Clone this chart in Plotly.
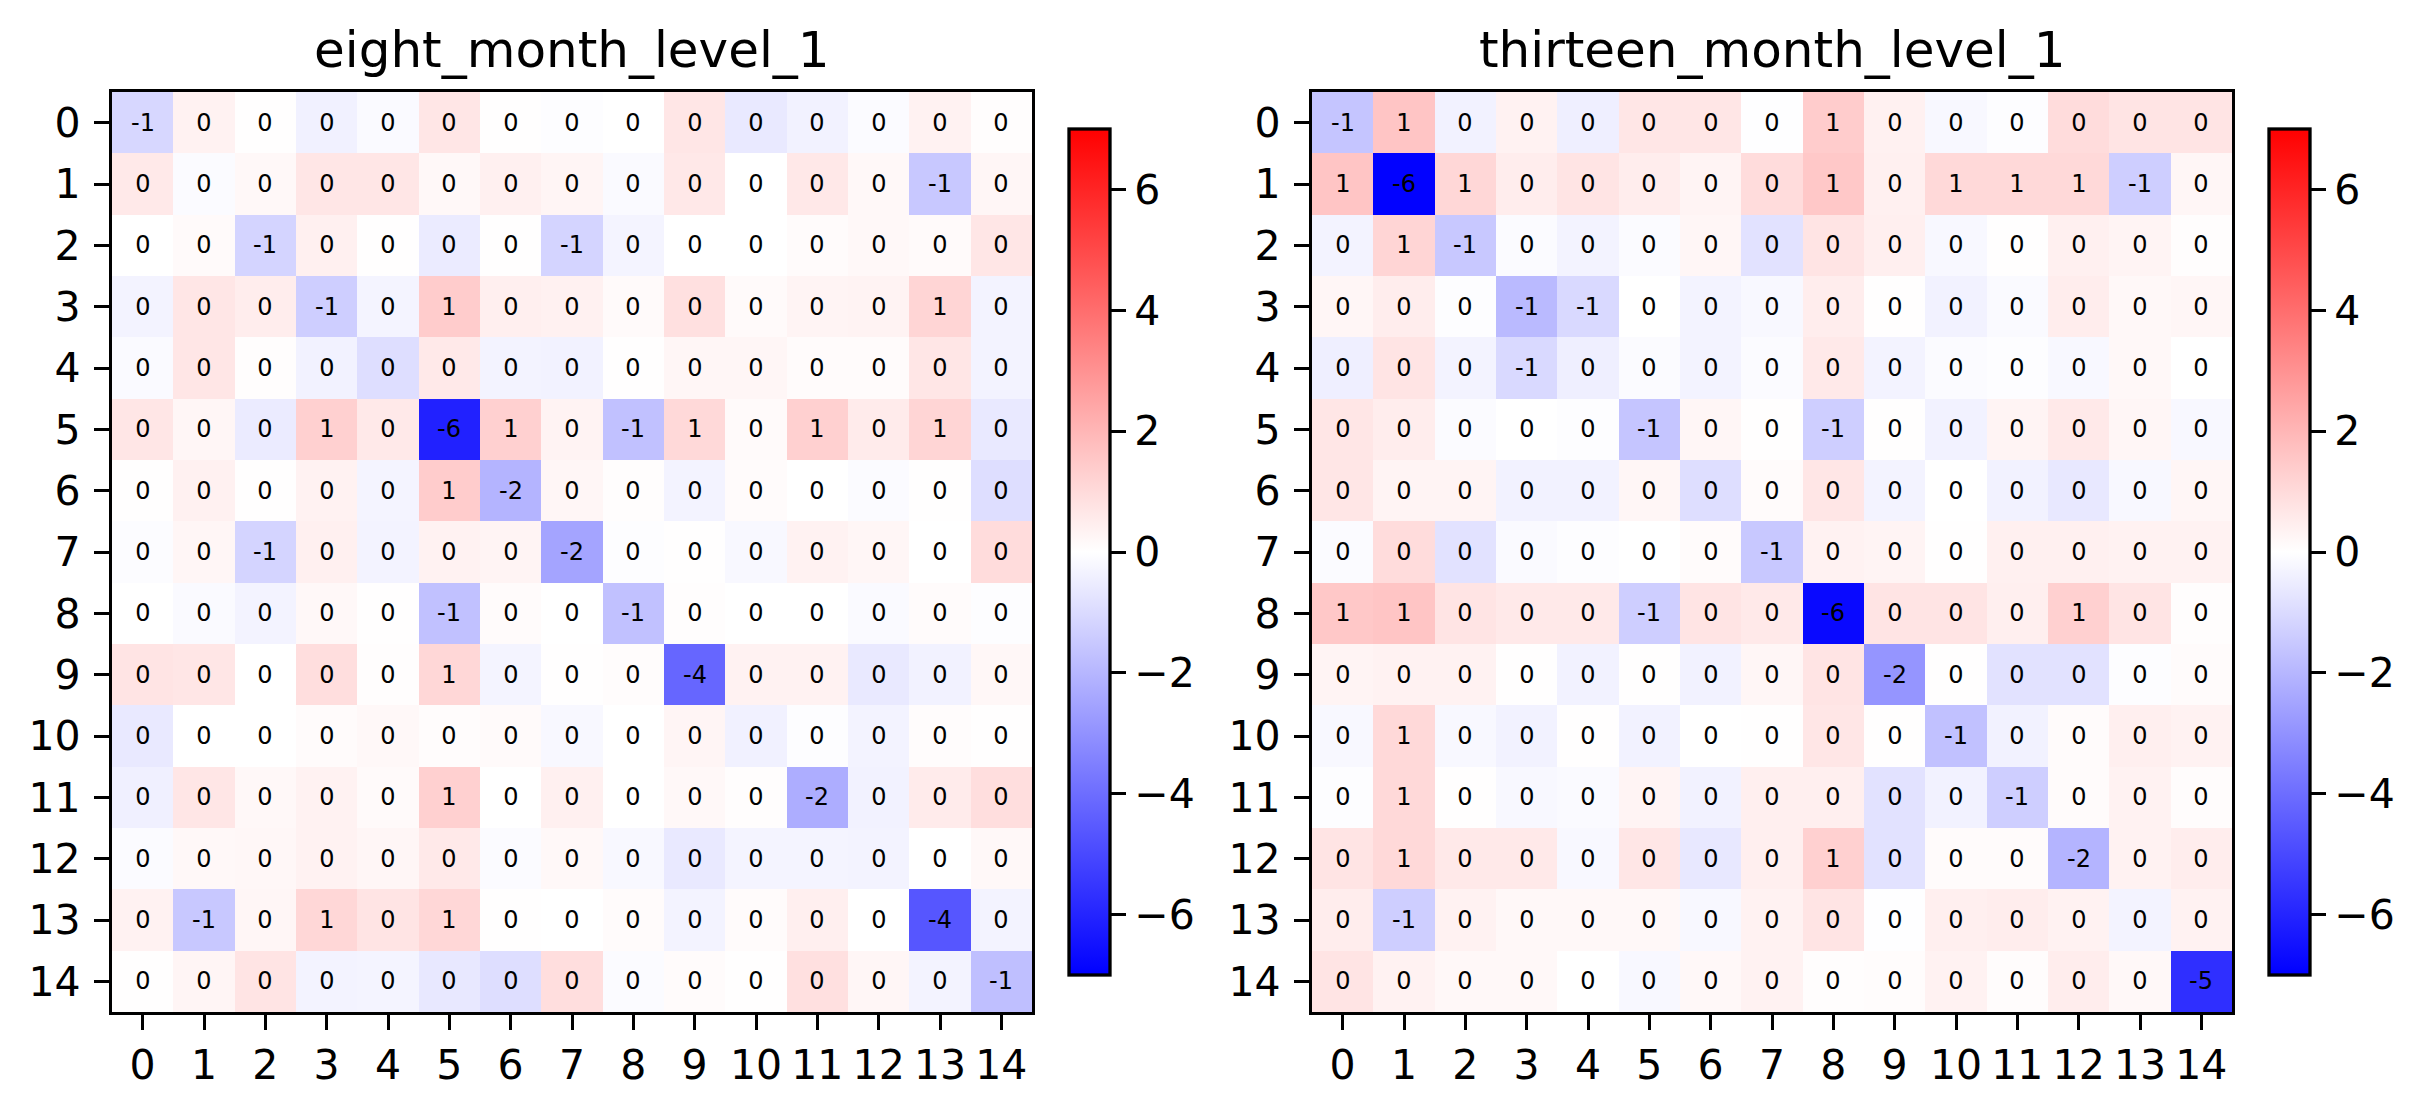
import numpy as np
import plotly.graph_objects as go

# ---------------- data ----------------
categories = list(range(15))
tick_labels = [str(c) for c in categories]
titles = ["eight_month_level_1", "thirteen_month_level_1"]

eight_month = [
    [-1.10, 0.35, 0.02, -0.38, -0.15, 0.70, 0.03, -0.05, 0.00, 0.70, -0.60, -0.35, -0.12, 0.35, 0.05],
    [0.60, -0.12, 0.18, 0.70, 0.68, 0.20, 0.40, 0.28, -0.15, 0.62, 0.01, 0.62, 0.20, -1.50, 0.25],
    [0.00, 0.15, -1.18, 0.40, 0.03, -0.55, 0.03, -1.18, -0.30, 0.00, 0.00, 0.10, 0.20, 0.15, 0.68],
    [-0.33, 0.68, 0.50, -1.35, -0.30, 1.40, 0.45, 0.38, 0.15, 0.85, 0.13, 0.30, 0.33, 1.15, -0.33],
    [-0.15, 0.68, 0.05, -0.35, -0.90, 0.60, -0.33, -0.35, 0.04, 0.25, 0.25, 0.12, 0.10, 0.68, -0.33],
    [0.68, 0.25, -0.55, 1.30, 0.60, -6.10, 1.30, 0.33, -1.70, 1.05, 0.15, 1.30, 0.55, 1.15, -0.60],
    [0.03, 0.38, 0.04, 0.35, -0.30, 1.40, -2.05, 0.25, 0.05, -0.33, 0.12, 0.00, -0.12, 0.02, -0.90],
    [-0.07, 0.25, -1.18, 0.42, -0.33, 0.35, 0.30, -2.50, -0.05, 0.03, -0.20, 0.35, 0.25, 0.00, 0.95],
    [0.00, -0.15, -0.33, 0.20, 0.03, -1.70, 0.12, 0.00, -1.70, 0.05, 0.00, 0.00, -0.13, 0.10, -0.05],
    [0.75, 0.68, 0.00, 0.90, 0.05, 1.10, -0.30, 0.03, 0.07, -4.20, 0.35, 0.35, -0.60, -0.35, 0.22],
    [-0.60, 0.00, 0.00, 0.10, 0.18, 0.08, 0.13, -0.20, 0.00, 0.28, -0.38, -0.05, -0.33, 0.07, 0.03],
    [-0.40, 0.68, 0.18, 0.35, 0.13, 1.30, 0.00, 0.40, 0.00, 0.20, 0.05, -2.25, -0.35, 0.55, 0.90],
    [-0.10, 0.20, 0.22, 0.35, 0.25, 0.60, -0.10, 0.20, -0.18, -0.60, -0.30, -0.30, -0.33, 0.00, 0.20],
    [0.35, -1.50, 0.25, 1.10, 0.75, 1.10, 0.02, 0.00, 0.10, -0.33, 0.10, 0.45, 0.00, -4.65, -0.33],
    [0.02, 0.28, 0.75, -0.33, -0.30, -0.62, -0.90, 0.90, -0.10, 0.10, 0.03, 0.85, 0.25, -0.33, -1.75],
]

thirteen_month = [
    [-1.60, 1.60, -0.35, 0.35, -0.45, 0.68, 0.68, -0.03, 1.40, 0.38, -0.18, -0.05, 0.95, 0.75, 0.75],
    [1.60, -6.95, 1.10, 0.50, 0.75, 0.50, 0.30, 0.95, 1.50, 0.42, 1.05, 1.05, 1.05, -1.35, 0.25],
    [-0.33, 1.15, -1.50, -0.10, -0.33, -0.10, 0.25, -0.80, 0.75, 0.45, -0.18, 0.02, 0.42, 0.30, 0.05],
    [0.25, 0.50, -0.05, -1.90, -1.05, 0.00, -0.33, -0.20, 0.50, 0.03, -0.35, -0.15, 0.50, 0.18, 0.25],
    [-0.45, 0.75, -0.33, -1.05, -0.45, -0.10, -0.33, -0.10, 0.60, -0.33, -0.10, -0.05, -0.20, 0.18, 0.00],
    [0.68, 0.50, -0.10, 0.00, -0.05, -1.60, 0.25, 0.02, -1.35, 0.03, -0.35, 0.30, 0.60, 0.25, -0.20],
    [0.68, 0.30, 0.30, -0.35, -0.35, 0.25, -0.90, 0.10, 0.68, -0.33, 0.00, -0.35, -0.62, -0.20, 0.25],
    [-0.10, 0.95, -0.80, -0.15, -0.05, 0.00, 0.10, -1.50, 0.35, 0.30, 0.03, 0.40, 0.40, 0.35, 0.35],
    [1.50, 1.60, 0.75, 0.60, 0.60, -1.35, 0.75, 0.60, -6.75, 0.75, 0.75, 0.45, 1.30, 0.75, 0.05],
    [0.30, 0.35, 0.35, 0.03, -0.35, 0.03, -0.35, 0.25, 0.75, -2.90, 0.03, -0.80, -0.80, -0.05, 0.10],
    [-0.20, 1.05, -0.20, -0.35, 0.02, -0.35, 0.00, 0.03, 0.68, 0.03, -1.70, -0.35, 0.10, 0.45, 0.35],
    [-0.05, 1.05, 0.02, -0.20, -0.15, 0.30, -0.35, 0.45, 0.45, -0.80, -0.35, -1.35, 0.10, 0.35, 0.08],
    [0.75, 1.05, 0.60, 0.60, -0.20, 0.68, -0.62, 0.45, 1.30, -0.80, 0.10, 0.10, -2.05, 0.35, 0.50],
    [0.50, -1.35, 0.35, 0.20, 0.20, 0.20, -0.20, 0.35, 0.75, -0.03, 0.45, 0.50, 0.35, -0.33, 0.35],
    [0.75, 0.35, 0.20, 0.20, 0.00, -0.20, 0.20, 0.35, 0.05, 0.08, 0.35, 0.08, 0.50, 0.20, -5.70],
]

cbar_tickvals = [-6, -4, -2, 0, 2, 4, 6]
cbar_ticktext = ["\u22126", "\u22124", "\u22122", "0", "2", "4", "6"]
z_min, z_max = -7, 7

# ---------------- layout constants ----------------
W, H = 2431, 1113
FONT = "DejaVu Sans"
BWR = [[0.0, "rgb(0,0,255)"], [0.5, "rgb(255,255,255)"], [1.0, "rgb(255,0,0)"]]
LW = 3.3

def fx(px):
    return px / W

def fy(px):
    return 1 - px / H

TOP, BOTTOM = 92, 1012
panels = [
    dict(data=eight_month, left=112, right=1032, cb=1069),
    dict(data=thirteen_month, left=1312, right=2232, cb=2269),
]
CB_TOP, CB_BOTTOM = 129, 975

fig = go.Figure()
annotations = []
for i, (p, title) in enumerate(zip(panels, titles)):
    z = np.array(p["data"], dtype=float)
    labels = np.trunc(z).astype(int).astype(str)
    sfx = "" if i == 0 else "2"
    fig.add_trace(go.Heatmap(
        z=z, x=categories, y=categories,
        text=labels, texttemplate="%{text}",
        textfont=dict(family=FONT, size=24, color="black"),
        colorscale=BWR, zmin=z_min, zmax=z_max,
        xaxis="x" + sfx, yaxis="y" + sfx,
        hoverongaps=False,
        colorbar=dict(
            x=fx(p["cb"]), xanchor="left", xpad=0, ypad=0,
            y=fy((CB_TOP + CB_BOTTOM) / 2), yanchor="middle",
            len=(CB_BOTTOM - CB_TOP) / H, lenmode="fraction",
            thickness=41, thicknessmode="pixels",
            outlinewidth=LW, outlinecolor="black",
            tickvals=cbar_tickvals, ticktext=cbar_ticktext,
            ticks="outside", ticklen=15, tickwidth=LW, tickcolor="black",
            tickfont=dict(family=FONT, size=41, color="black"),
        ),
    ))
    axis_common = dict(
        showline=True, mirror=True, linewidth=LW, linecolor="black",
        showgrid=False, zeroline=False,
        ticks="outside", ticklen=15, tickwidth=LW, tickcolor="black",
        tickfont=dict(family=FONT, size=41, color="black"),
        tickvals=categories, ticktext=tick_labels,
    )
    fig.update_layout(**{
        "xaxis" + sfx: dict(domain=[fx(p["left"]), fx(p["right"])], range=[-0.5, 14.5],
                            anchor="y" + sfx, ticklabelstandoff=0, **axis_common),
        "yaxis" + sfx: dict(domain=[fy(BOTTOM), fy(TOP)], range=[14.5, -0.5],
                            anchor="x" + sfx, ticklabelstandoff=5, **axis_common),
    })
    annotations.append(dict(
        text=title, x=fx((p["left"] + p["right"]) / 2), y=fy(50),
        xref="paper", yref="paper", xanchor="center", yanchor="middle",
        showarrow=False, font=dict(family=FONT, size=50, color="black"),
    ))

fig.update_layout(
    width=W, height=H,
    margin=dict(l=0, r=0, t=0, b=0),
    paper_bgcolor="white", plot_bgcolor="white",
    annotations=annotations,
    font=dict(family=FONT, color="black"),
)

fig.write_html("out.html")
